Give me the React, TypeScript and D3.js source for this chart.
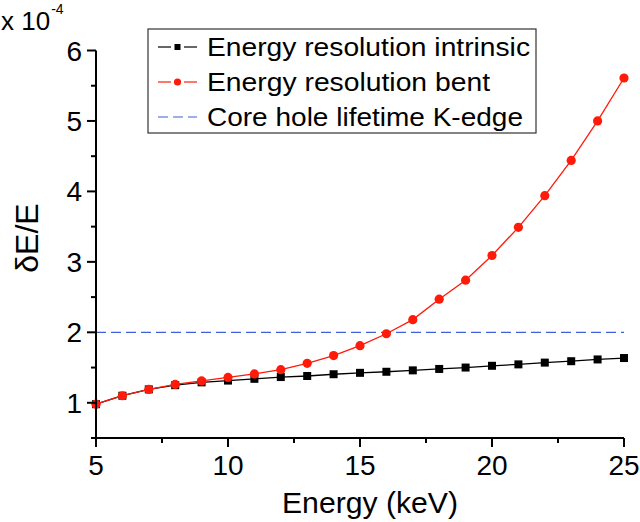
import React from "react";
import * as d3 from "d3";

const energies = [5, 6, 7, 8, 9, 10, 11, 12, 13, 14, 15, 16, 17, 18, 19, 20, 21, 22, 23, 24, 25];
const intrinsic = [0.98, 1.1, 1.19, 1.25, 1.29, 1.315, 1.34, 1.365, 1.38, 1.405, 1.425, 1.44, 1.46, 1.48, 1.5, 1.525, 1.545, 1.57, 1.59, 1.615, 1.635];
const bent = [0.98, 1.1, 1.19, 1.26, 1.31, 1.36, 1.41, 1.47, 1.56, 1.67, 1.81, 1.98, 2.18, 2.47, 2.74, 3.09, 3.49, 3.94, 4.44, 5.0, 5.61];
const coreHole = 2.0;
const xTicks = [5, 10, 15, 20, 25];
const yTicks = [1, 2, 3, 4, 5, 6];
const legendLabels = ["Energy resolution intrinsic", "Energy resolution bent", "Core hole lifetime K-edge"];

const W = 640, H = 522;
const FONT = "'Liberation Sans', Arial, sans-serif";

export default function App() {
  const x = d3.scaleLinear().domain([5, 25]).range([96, 624]);
  const y = d3.scaleLinear().domain([0.5, 6]).range([438, 50.5]);
  const line = d3.line<number>().x((_, i) => x(energies[i])).y((d) => y(d));
  const xMinor = d3.range(5, 25.01, 2.5).filter((v) => !xTicks.includes(v));
  const yMinor = d3.range(0.5, 6.01, 0.5).filter((v) => !yTicks.includes(v));
  const red = "#ff1a0a";
  const blue = "#3f5fdc";
  const legX = 148, legY = 29, legW = 388, legH = 104;
  const rowY = [47, 82, 117];
  const legLens = [323, 283, 316];
  return (
    <svg width={W} height={H} style={{ position: "absolute", left: 0, top: 0, background: "#fff" }} fontFamily={FONT}>
      {/* core hole line */}
      <line x1={x(5)} x2={x(25)} y1={y(coreHole)} y2={y(coreHole)} stroke={blue} strokeWidth={1.2} strokeDasharray="10,5" />
      {/* intrinsic */}
      <path d={line(intrinsic) || ""} fill="none" stroke="#000" strokeWidth={1.3} />
      {intrinsic.map((v, i) => (
        <rect key={"s" + i} x={x(energies[i]) - 4} y={y(v) - 4} width={8} height={8} fill="#000" />
      ))}
      {/* bent */}
      <path d={line(bent) || ""} fill="none" stroke={red} strokeWidth={1.3} />
      {bent.map((v, i) => (
        <circle key={"c" + i} cx={x(energies[i])} cy={y(v)} r={4.6} fill={red} />
      ))}
      {/* axes */}
      <line x1={x(5)} x2={x(25)} y1={y(0.5)} y2={y(0.5)} stroke="#000" strokeWidth={2} />
      <line x1={x(5)} x2={x(5)} y1={y(0.5) + 1} y2={y(6)} stroke="#000" strokeWidth={2} />
      {xTicks.map((t) => (
        <g key={"xt" + t}>
          <line x1={x(t)} x2={x(t)} y1={y(0.5)} y2={y(0.5) + 9} stroke="#000" strokeWidth={2} />
          <text x={x(t)} y={y(0.5) + 37} fontSize={28} textAnchor="middle">{t}</text>
        </g>
      ))}
      {xMinor.map((t) => (
        <line key={"xm" + t} x1={x(t)} x2={x(t)} y1={y(0.5)} y2={y(0.5) + 5} stroke="#000" strokeWidth={2} />
      ))}
      {yTicks.map((t) => (
        <g key={"yt" + t}>
          <line x1={x(5) - 9} x2={x(5)} y1={y(t)} y2={y(t)} stroke="#000" strokeWidth={2} />
          <text x={x(5) - 14} y={y(t) + 10} fontSize={28} textAnchor="end">{t}</text>
        </g>
      ))}
      {yMinor.map((t) => (
        <line key={"ym" + t} x1={x(5) - 5} x2={x(5)} y1={y(t)} y2={y(t)} stroke="#000" strokeWidth={2} />
      ))}
      {/* titles */}
      <text x={370} y={513} fontSize={29} textAnchor="middle" textLength={176} lengthAdjust="spacingAndGlyphs">Energy (keV)</text>
      <text transform="translate(38,238) rotate(-90)" fontSize={32} textAnchor="middle">δE/E</text>
      <text x={1} y={30} fontSize={26}>x 10<tspan fontSize={14} dy={-16} dx={1}>-4</tspan></text>
      {/* legend */}
      <rect x={legX} y={legY} width={legW} height={legH} fill="#fff" stroke="#333" strokeWidth={1.2} />
      {legendLabels.map((lab, i) => (
        <g key={"lg" + i}>
          {i === 2 ? (
            <line x1={158} x2={197} y1={rowY[i]} y2={rowY[i]} stroke={blue} strokeWidth={1.2} strokeDasharray="10,5" />
          ) : (
            <>
              <line x1={158} x2={171} y1={rowY[i]} y2={rowY[i]} stroke={i === 0 ? "#000" : red} strokeWidth={1.2} />
              <line x1={184} x2={197} y1={rowY[i]} y2={rowY[i]} stroke={i === 0 ? "#000" : red} strokeWidth={1.2} />
              {i === 0 ? (
                <rect x={174.5} y={rowY[i] - 3} width={6} height={6} fill="#000" />
              ) : (
                <circle cx={177.5} cy={rowY[i]} r={3.6} fill={red} />
              )}
            </>
          )}
          <text x={207} y={rowY[i] + 9} fontSize={26} textLength={legLens[i]} lengthAdjust="spacingAndGlyphs">{lab}</text>
        </g>
      ))}
    </svg>
  );
}
